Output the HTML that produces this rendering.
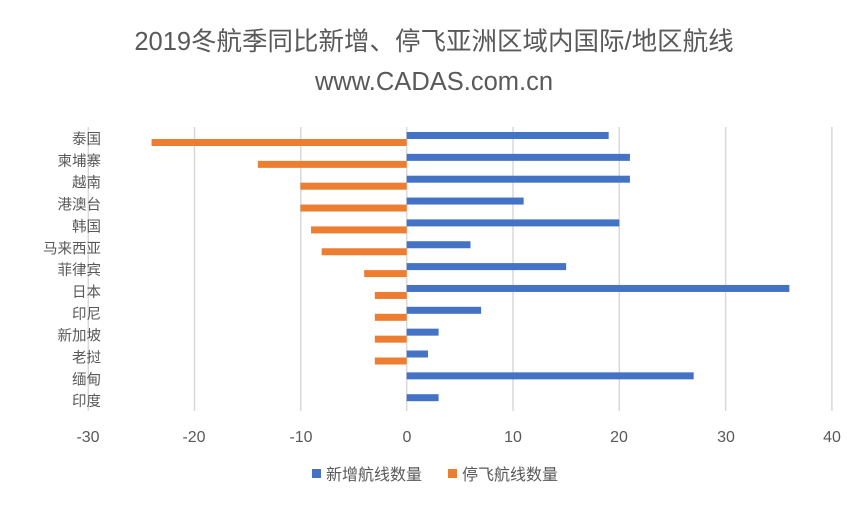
<!DOCTYPE html>
<html><head><meta charset="utf-8"><style>
html,body{margin:0;padding:0;background:#fff;}
svg text{font-family:"Liberation Sans","Noto Sans CJK SC",sans-serif;fill:#595959;}
</style></head><body>
<svg width="867" height="507" viewBox="0 0 867 507" xmlns="http://www.w3.org/2000/svg">
<rect width="867" height="507" fill="#fff"/>
<text x="434" y="50" font-size="25.5" text-anchor="middle">2019冬航季同比新增、停飞亚洲区域内国际/地区航线</text>
<text x="434" y="90" font-size="25.5" text-anchor="middle">www.CADAS.com.cn</text>
<g stroke="#d9d9d9" stroke-width="1.5">
<line x1="88.3" y1="127" x2="88.3" y2="411"/>
<line x1="194.5" y1="127" x2="194.5" y2="411"/>
<line x1="300.8" y1="127" x2="300.8" y2="411"/>
<line x1="406.7" y1="127" x2="406.7" y2="411"/>
<line x1="513" y1="127" x2="513" y2="411"/>
<line x1="619.3" y1="127" x2="619.3" y2="411"/>
<line x1="725.6" y1="127" x2="725.6" y2="411"/>
<line x1="831.9" y1="127" x2="831.9" y2="411"/>
</g>
<g font-size="16" text-anchor="middle">
<text x="88" y="442">-30</text><text x="194" y="442">-20</text><text x="301" y="442">-10</text><text x="407" y="442">0</text>
<text x="513" y="442">10</text><text x="619" y="442">20</text><text x="726" y="442">30</text><text x="832" y="442">40</text>
</g>
<g id="bars"></g>
<g font-size="14.5" text-anchor="end" id="labels"></g>
<rect x="312" y="469" width="9" height="9" fill="#4472c4"/>
<text x="326" y="480" font-size="16">新增航线数量</text>
<rect x="448" y="469" width="9" height="9" fill="#ed7d31"/>
<text x="462" y="480" font-size="16">停飞航线数量</text>
<script>
var names=["泰国","柬埔寨","越南","港澳台","韩国","马来西亚","菲律宾","日本","印尼","新加坡","老挝","缅甸","印度"];
var b=[19,21,21,11,20,6,15,36,7,3,2,27,3];
var o=[-24,-14,-10,-10,-9,-8,-4,-3,-3,-3,-3,0,0];
var s=10.63,z=406.7,ns="http://www.w3.org/2000/svg";
var g=document.getElementById("bars"),l=document.getElementById("labels");
for(var i=0;i<13;i++){
 var t=127+21.85*i;
 var r=document.createElementNS(ns,"rect");
 r.setAttribute("x",z);r.setAttribute("y",t+5);r.setAttribute("width",b[i]*s);r.setAttribute("height",7);r.setAttribute("fill","#4472c4");g.appendChild(r);
 if(o[i]){var q=document.createElementNS(ns,"rect");
 q.setAttribute("x",z+o[i]*s);q.setAttribute("y",t+12);q.setAttribute("width",-o[i]*s);q.setAttribute("height",7);q.setAttribute("fill","#ed7d31");g.appendChild(q);}
 var x=document.createElementNS(ns,"text");x.setAttribute("x",101);x.setAttribute("y",t+17);x.textContent=names[i];l.appendChild(x);
}
</script>
</svg>
</body></html>
